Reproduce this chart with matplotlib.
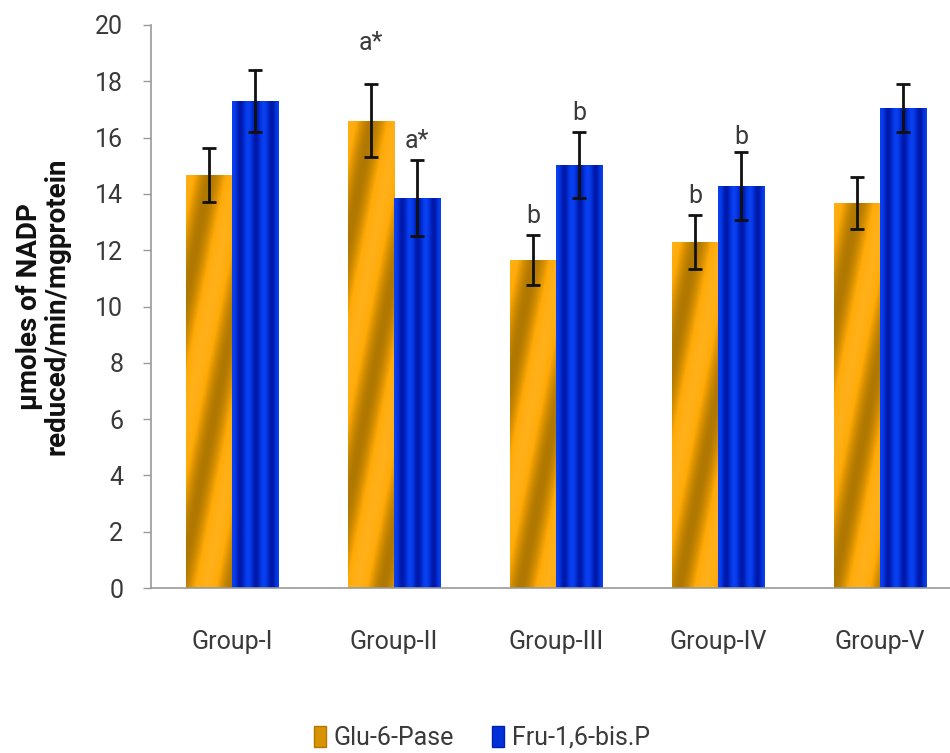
import numpy as np
import matplotlib
matplotlib.use("Agg")
import matplotlib.pyplot as plt
from matplotlib.patches import Patch
from matplotlib.colors import LinearSegmentedColormap

groups = ["Group-I", "Group-II", "Group-III", "Group-IV", "Group-V"]
series_names = ["Glu-6-Pase", "Fru-1,6-bis.P"]
glu = [14.67, 16.6, 11.65, 12.29, 13.68]
glu_err = [0.95, 1.3, 0.9, 0.96, 0.93]
fru = [17.3, 13.85, 15.03, 14.28, 17.05]
fru_err = [1.1, 1.36, 1.17, 1.2, 0.85]
glu_marks = ["", "a*", "b", "b", ""]
fru_marks = ["", "a*", "b", "b", ""]
yticks = [0, 2, 4, 6, 8, 10, 12, 14, 16, 18, 20]

font = ["Roboto", "DejaVu Sans"]
grey = "#3a3a3a"

fig = plt.figure(figsize=(9.5, 7.53), dpi=100)
ax = fig.add_axes([151/950, 1-588/753, 810/950, (588-25)/753])

x = np.arange(len(groups))
w = 0.287
bars_g = ax.bar(x - w/2, glu, w, color="#E8A000", edgecolor="none", zorder=2)
bars_f = ax.bar(x + w/2, fru, w, color="#0030DD", edgecolor="none", zorder=2)

orange_cmap = LinearSegmentedColormap.from_list("o", ["#B07800", "#D89000", "#FFAA08", "#FFB018"])
blue_cmap = LinearSegmentedColormap.from_list("b", ["#0018A8", "#0030D8", "#0A40F0"])
pxu = (588-25)/20.0
for bars, kind in ((bars_g, "o"), (bars_f, "b")):
    for p in bars:
        bx, by, bw, bh = p.get_x(), p.get_y(), p.get_width(), p.get_height()
        ny = max(int(bh*pxu), 2)
        nx = 47
        xx, yy = np.meshgrid(np.arange(nx), np.arange(ny)[::-1])
        if kind == "o":
            s = 0.5 + 0.5*np.cos(2*np.pi*(xx/nx*0.9 + yy/260.0) + 0.3)
            cmap = orange_cmap
        else:
            s = 0.5 + 0.5*np.cos(2*np.pi*(xx/nx*3.0))
            cmap = blue_cmap
        im = ax.imshow(s, cmap=cmap, extent=[bx, bx+bw, by, by+bh], aspect="auto",
                       origin="lower", zorder=2.5, interpolation="bilinear")
        im.set_clip_path(p)

ax.errorbar(x - w/2, glu, yerr=glu_err, fmt="none", ecolor="#111111", elinewidth=2,
            capsize=5, capthick=2, zorder=4)
ax.errorbar(x + w/2, fru, yerr=fru_err, fmt="none", ecolor="#111111", elinewidth=2,
            capsize=5, capthick=2, zorder=4)

glu_pad = [0, 1.05, 0.25, 0.25, 0]
fru_pad = [0, 0.25, 0.25, 0.1, 0]
for xi, v, e, m, pd in zip(x - w/2, glu, glu_err, glu_marks, glu_pad):
    if m:
        ax.text(xi, v + e + pd, m, ha="center", va="bottom", fontsize=18,
                color=grey, family=font, zorder=5)
for xi, v, e, m, pd in zip(x + w/2, fru, fru_err, fru_marks, fru_pad):
    if m:
        ax.text(xi, v + e + pd, m, ha="center", va="bottom", fontsize=18,
                color=grey, family=font, zorder=5)

ax.set_xlim(-0.5, 4.5)
ax.set_ylim(0, 20)
ax.set_yticks(yticks)
ax.set_xticks(x)
ax.set_xticklabels(groups, family=font, fontsize=18, color=grey)
ax.set_yticklabels([str(t) for t in yticks], family=font, fontsize=18, color=grey)
ax.tick_params(axis="x", length=0, pad=30)
ax.tick_params(axis="y", length=6, color="#999999", width=1, direction="out", pad=14)
for s in ("top", "right"):
    ax.spines[s].set_visible(False)
for s in ("left", "bottom"):
    ax.spines[s].set_color("#999999")
    ax.spines[s].set_linewidth(1.2)

ax.set_ylabel("\u00b5moles of NADP\nreduced/min/mgprotein", fontsize=20, fontweight="bold",
              family=font, color="#111111", labelpad=18, linespacing=1.0)

handles = [Patch(facecolor="#D89400", edgecolor="#B07800"),
           Patch(facecolor="#0030D8", edgecolor="#0020B0")]
fig.legend(handles, series_names, loc="center", bbox_to_anchor=(0.507, 1-738/753), ncol=2,
           frameon=False, prop={"family": font, "size": 18}, labelcolor=grey,
           handlelength=0.5, handleheight=0.9, handletextpad=0.3, columnspacing=1.5)

fig.savefig("out.png", dpi=100)
